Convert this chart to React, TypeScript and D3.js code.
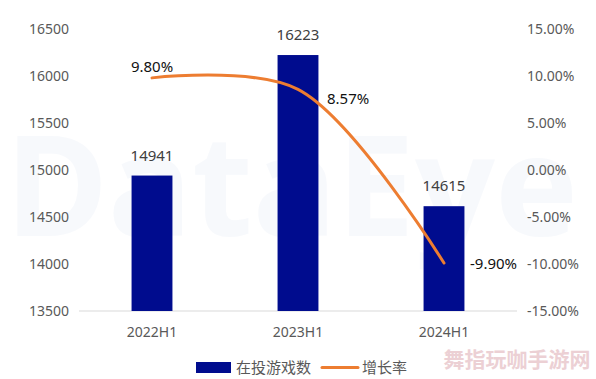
import React from "react";
import * as d3 from "d3";

const categories = ["2022H1", "2023H1", "2024H1"];
const gamesCount = [14941, 16223, 14615];
const growthRate = [9.8, 8.57, -9.9];
const leftTicks = [13500, 14000, 14500, 15000, 15500, 16000, 16500];
const rightTicks = [-15, -10, -5, 0, 5, 10, 15];
const legendLabels = ["在投游戏数", "增长率"];

const W = 596, H = 379;
const plotL = 79, plotR = 517, plotT = 29, plotB = 311;
const FONT = "'Noto Sans', 'Noto Sans CJK SC', sans-serif";

export default function App() {
  const x = d3.scaleBand<string>().domain(categories).range([plotL, plotR]).paddingInner(0.72).paddingOuter(0.36);
  const yL = d3.scaleLinear().domain([13500, 16500]).range([plotB, plotT]);
  const yR = d3.scaleLinear().domain([-15, 15]).range([plotB, plotT]);
  const cx = (c: string) => (x(c) as number) + x.bandwidth() / 2;
  const line = d3.line<number>().x((_, i) => cx(categories[i])).y(d => yR(d)).curve(d3.curveCatmullRom.alpha(0.5));
  const rateLabelPos = [
    { dx: 0, dy: -11, anchor: "middle" },
    { dx: 29, dy: 9, anchor: "start" },
    { dx: 26, dy: 1, anchor: "start" },
  ];
  return (
    <svg width={W} height={H} style={{ position: "absolute", left: 0, top: 0, background: "#fff" }}>
      <text x={292} y={236} textAnchor="middle" fontFamily={FONT} fontWeight={700} fontSize={140} fill="#f3f6fb" opacity={0.6}>DataEye</text>
      <line x1={plotL} x2={plotR} y1={plotB} y2={plotB} stroke="#d9d9d9" strokeWidth={1} />
      {leftTicks.map(t => (
        <text key={t} x={69} y={yL(t)} dy="0.35em" textAnchor="end" fontFamily={FONT} fontSize={14} fill="#595959">{t}</text>
      ))}
      {rightTicks.map(t => (
        <text key={t} x={527} y={yR(t)} dy="0.35em" textAnchor="start" fontFamily={FONT} fontSize={14} fill="#595959">{t.toFixed(2) + "%"}</text>
      ))}
      {categories.map((c, i) => (
        <g key={c}>
          <rect x={x(c)} y={yL(gamesCount[i])} width={x.bandwidth()} height={plotB - yL(gamesCount[i])} fill="#000c8e" />
          <text x={cx(c)} y={yL(gamesCount[i]) - 20} dy="0.35em" textAnchor="middle" fontFamily={FONT} fontSize={15} fill="#404040">{gamesCount[i]}</text>
          <text x={cx(c)} y={332} dy="0.35em" textAnchor="middle" fontFamily={FONT} fontSize={14} fill="#595959">{c}</text>
        </g>
      ))}
      <path d={line(growthRate) || ""} fill="none" stroke="#ed7d31" strokeWidth={3} strokeLinecap="round" />
      {growthRate.map((r, i) => (
        <text key={i} x={cx(categories[i]) + rateLabelPos[i].dx} y={yR(r) + rateLabelPos[i].dy} dy="0.35em" textAnchor={rateLabelPos[i].anchor as any} fontFamily={FONT} fontSize={15} fill="#111">{r.toFixed(2) + "%"}</text>
      ))}
      <rect x={196} y={362} width={35} height={11} fill="#000c8e" />
      <text x={236} y={367.5} dy="0.35em" fontFamily={FONT} fontSize={15} fill="#595959">{legendLabels[0]}</text>
      <line x1={322} x2={358} y1={367.5} y2={367.5} stroke="#ed7d31" strokeWidth={3} strokeLinecap="round" />
      <text x={362} y={367.5} dy="0.35em" fontFamily={FONT} fontSize={15} fill="#595959">{legendLabels[1]}</text>
      <text x={517} y={360} dy="0.35em" textAnchor="middle" fontFamily="'Noto Sans CJK SC', sans-serif" fontWeight={700} fontSize={21} fill="#ecd0d4">舞指玩咖手游网</text>
    </svg>
  );
}
